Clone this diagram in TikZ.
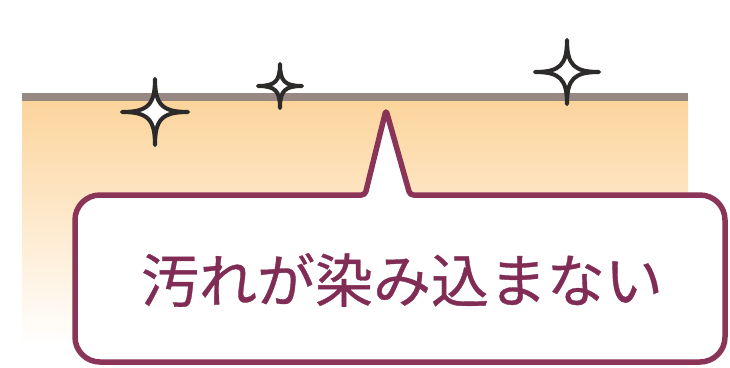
\documentclass[tikz,border=0pt]{standalone}
\usepackage{fontspec}
\newfontfamily\jpfont[FakeBold=0.6]{Noto Sans CJK JP}
\usetikzlibrary{positioning}
\definecolor{surfline}{RGB}{152,136,132}
\definecolor{calloutline}{RGB}{138,52,88}
\definecolor{msgcolor}{RGB}{128,44,84}
\definecolor{stainorange}{RGB}{252,212,155}
\definecolor{sparkline}{RGB}{45,42,42}

\begin{document}
\begin{tikzpicture}[x=0.02cm,y=-0.02cm,
surface/.style={draw=surfline,line width=1.5mm},
callout/.style={draw=calloutline,line width=1.1mm,fill=white,line join=round},
sparkle/.style={draw=sparkline,fill=white,line width=2.3pt,line join=round},
msg/.style={text=msgcolor,font=\jpfont\fontsize{33}{33}\selectfont}]
\useasboundingbox [fill=white] (0,0) rectangle (730,368);
% coating layer
\shade [top color=stainorange,bottom color=white] (22,99) rectangle (688,345);
\draw [surface] (22,97) -- (688,97);
% sparkles
\foreach \cx/\cy/\r in {155/112/33, 280/86/22, 567/72/32} {
  \draw [sparkle,shift={(\cx,\cy)}]
    (0,-\r) .. controls (0,-0.22*\r) and (0.22*\r,0) .. (\r,0)
    .. controls (0.22*\r,0) and (0,0.22*\r) .. (0,\r)
    .. controls (0,0.22*\r) and (-0.22*\r,0) .. (-\r,0)
    .. controls (-0.22*\r,0) and (0,-0.22*\r) .. (0,-\r) -- cycle;
}
% speech bubble
\coordinate (tip) at (386,110);
\draw [callout] (560,195) [rounded corners=0.5cm] -- (725,195) -- (725,362)
  -- (75,362) -- (75,195) -- (200,195) [rounded corners=2pt] -- (365,195)
  -- (tip) -- (410,195) -- cycle;
\node (msg) [msg] at (402,280) {汚れが染み込まない};
\end{tikzpicture}
\end{document}
